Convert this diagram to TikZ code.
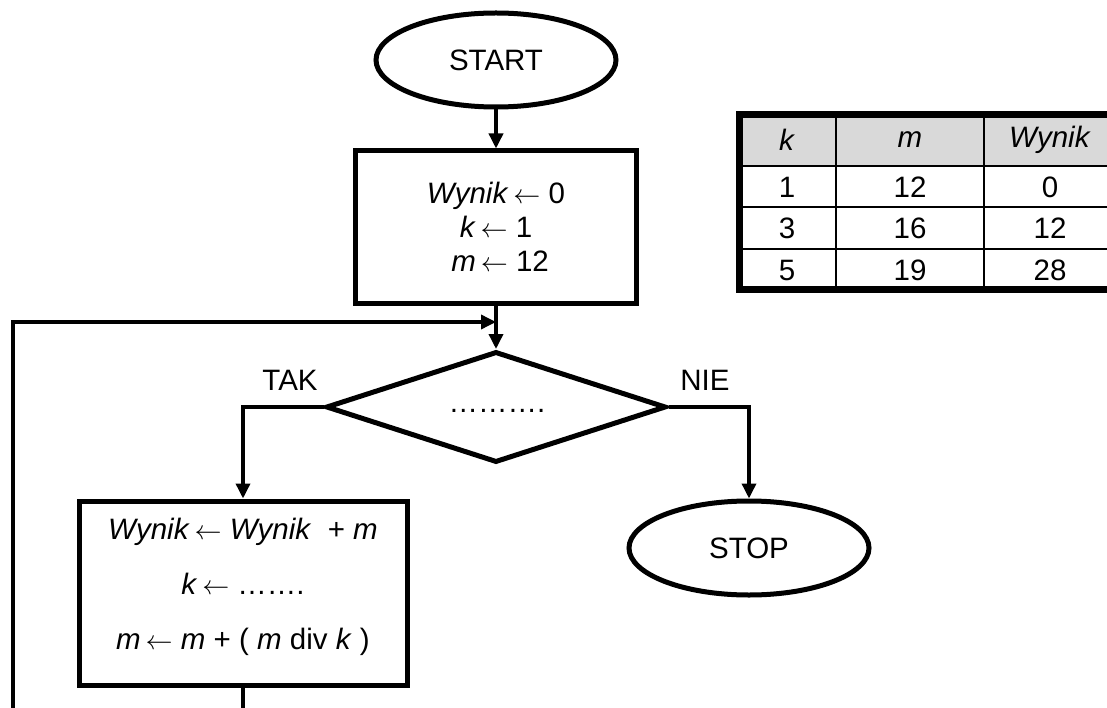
\documentclass[tikz,border=0pt]{standalone}
\usepackage{graphicx}
\usepackage{fontspec}
\setmainfont{Liberation Sans}
\newcommand{\lar}{\resizebox{27pt}{!}{$\leftarrow$}}
\usetikzlibrary{shapes.geometric,arrows.meta}
\definecolor{hdrgray}{RGB}{217,217,217}
\begin{document}
\begin{tikzpicture}[x=1pt,y=-1pt,
  every node/.style={font=\fontsize{29.5}{34}\selectfont},
  term/.style={draw,ellipse,line width=5pt,minimum width=240pt,minimum height=94pt,inner sep=0pt},
  procbox/.style={draw,rectangle,line width=5pt,inner sep=0pt,align=center},
  decbox/.style={draw,diamond,line width=5pt,inner sep=0pt,minimum width=340pt,minimum height=111pt},
  conn/.style={line width=3.5pt,-{Triangle[width=14pt,length=15pt]}},
  plainconn/.style={line width=3.5pt},
  lbl/.style={inner sep=0pt},
  tabthin/.style={line width=1.8pt},
  tabthick/.style={line width=7pt},
  cell/.style={inner sep=0pt}
]
\clip (0,0) rectangle (1107,708);

% nodes
\node[term] (start) at (496,60) {START};
\node[procbox,minimum width=281pt,minimum height=152pt] (init) at (496,227)
  {\textit{Wynik}\,\lar\ 0\\ \textit{k}\,\lar\ 1\\ \ \textit{m}\,\lar\ 12};
\node[decbox] (cond) at (496,407) {};
\node[lbl] (condtxt) at (497,411) {……….};
\node[procbox,minimum width=328pt,minimum height=184pt] (proc) at (243,593) {};
\node[lbl,align=center,font=\fontsize{29.5}{55}\selectfont] (proctxt) at (243,587)
  {\textit{Wynik}\,\lar\ \textit{Wynik}\ \ + \textit{m}\\
   \textit{k}\,\lar\ …….\\
   \textit{m}\,\lar\ \textit{m} + ( \textit{m} div \textit{k} )};
\node[term] (stop) at (749,548) {STOP};
\node[lbl] (tak) at (290,380) {TAK};
\node[lbl] (nie) at (705,380) {NIE};

% connectors
\coordinate (join) at (496,322);
\coordinate (loopend) at (13,712);
\coordinate (procend) at (243,712);
\draw[conn] (start.south) -- (init.north);
\draw[plainconn] (init.south) -- (join);
\draw[conn] (join) -- (cond.north);
\draw[conn] (cond.west) -| (proc.north);
\draw[conn] (cond.east) -| (stop.north);
\draw[plainconn] (proc.south) -- (procend);
\draw[conn] (loopend) |- (join);

% table
\fill[hdrgray] (739,115) rectangle (1120,166);
\draw[tabthin] (739,166) -- (1120,166);
\draw[tabthin] (739,207) -- (1120,207);
\draw[tabthin] (739,249) -- (1120,249);
\draw[tabthin] (836,115) -- (836,290);
\draw[tabthin] (984,115) -- (984,290);
\draw[tabthick] (1120,115) -- (739,115) -- (739,290) -- (1120,290);
\node[cell] (hk) at (787,140) {\textit{k}};
\node[cell] (hm) at (910,140) {\textit{m}};
\node[cell] (hw) at (1050,140) {\textit{Wynik}};
\node[cell] (k1) at (787,187) {1};
\node[cell] (m1) at (910,187) {12};
\node[cell] (w1) at (1050,187) {0};
\node[cell] (k2) at (787,228) {3};
\node[cell] (m2) at (910,228) {16};
\node[cell] (w2) at (1050,228) {12};
\node[cell] (k3) at (787,270) {5};
\node[cell] (m3) at (910,270) {19};
\node[cell] (w3) at (1050,270) {28};
\end{tikzpicture}
\end{document}
